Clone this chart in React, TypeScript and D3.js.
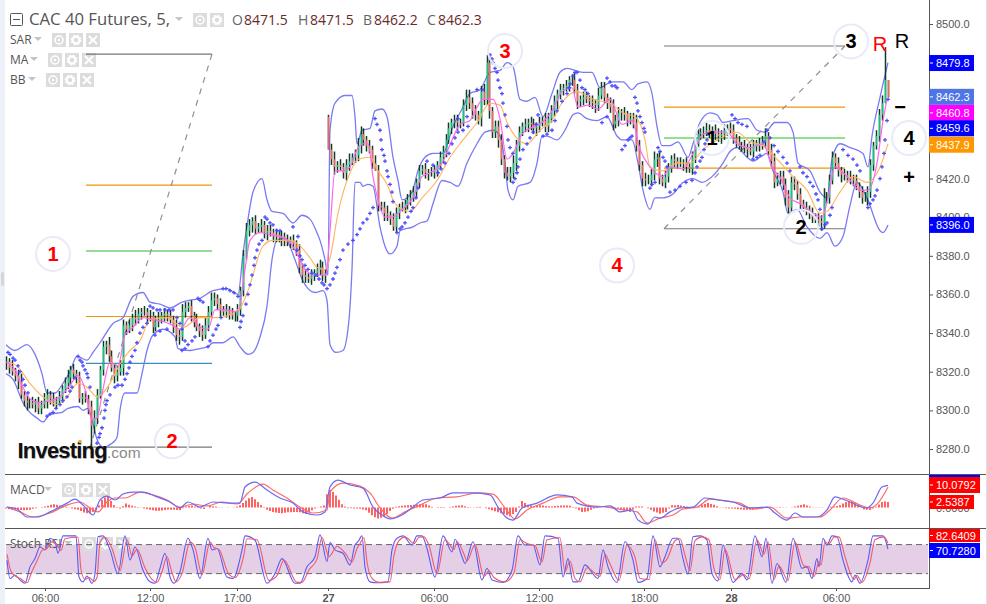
import React, { useEffect, useRef } from 'react';
import * as d3 from 'd3';

// candles, one every ~2.9 time units
const closes = [
  8325,8322,8320,8318,8315,8308,8305,8304,8304,8303,8304,8301,8303,8305,8308,8306,8304,8305,8307,8311,
  8314,8317,8321,8319,8317,8306,8307,8306,8302,8292,8296,8308,8321,8333,8334,8328,8322,8318,8320,8322,
  8344,8342,8344,8348,8347,8350,8351,8351,8349,8349,8343,8346,8347,8349,8350,8349,8347,8343,8339,8338,
  8351,8353,8354,8349,8347,8343,8341,8339,8344,8351,8357,8358,8355,8352,8351,8352,8350,8349,8349,8352,
  8362,8380,8393,8396,8398,8394,8395,8396,8392,8393,8392,8390,8391,8389,8390,8388,8387,8388,8386,8383,
  8374,8370,8369,8368,8370,8371,8373,8374,8370,8371,8435,8430,8426,8427,8426,8423,8427,8429,8431,8432,
  8437,8443,8440,8437,8435,8428,8424,8406,8405,8402,8401,8399,8395,8402,8405,8405,8407,8409,8410,8413,
  8418,8424,8425,8423,8423,8423,8424,8427,8431,8434,8440,8446,8449,8450,8449,8449,8458,8462,8459,8455,
  8453,8451,8465,8461,8480,8455,8444,8447,8440,8430,8423,8421,8423,8428,8437,8444,8447,8448,8449,8448,
  8446,8447,8449,8450,8447,8451,8455,8460,8464,8466,8467,8468,8471,8471,8466,8460,8461,8462,8461,8460,
  8459,8458,8463,8467,8462,8459,8457,8448,8450,8454,8454,8453,8450,8451,8449,8437,8427,8420,8419,8419,
  8422,8430,8431,8420,8418,8421,8425,8430,8429,8428,8428,8428,8426,8425,8431,8438,8443,8444,8444,8445,
  8444,8445,8443,8442,8443,8445,8446,8445,8441,8439,8437,8437,8436,8435,8434,8437,8438,8437,8439,8442,
  8435,8429,8418,8420,8421,8417,8410,8405,8418,8417,8412,8407,8405,8404,8402,8400,8399,8398,8397,8410,
  8410,8419,8431,8428,8424,8422,8422,8421,8420,8419,8416,8413,8410,8410,8413,8427,8437,8442,8453,8459,
  8471,8462,
];
const wickUp = [
  3,2,4,2,3,4,2,3,2,3,2,3,2,4,3,2,3,2,3,2,
  3,4,2,3,2,3,2,3,2,3,4,3,2,3,2,4,3,2,3,4,
  3,2,3,2,4,3,2,3,2,3,2,3,4,2,3,2,3,2,4,3,
  4,3,2,3,2,3,2,3,4,3,4,3,2,3,2,3,2,3,2,3,
  2,3,4,3,2,3,2,3,2,3,3,2,3,2,3,2,3,2,3,2,
  3,2,3,2,3,2,3,4,3,2,1,3,4,2,3,2,3,4,2,3,
  4,4,3,2,3,2,4,3,2,3,4,2,3,3,2,3,2,3,4,3,
  2,3,2,3,2,3,3,2,3,3,3,3,2,3,3,2,3,4,4,3,
  3,2,3,4,4,3,2,3,3,3,2,3,3,4,3,3,2,3,2,3,
  3,2,3,2,4,3,3,3,2,3,2,3,2,3,4,3,2,3,3,2,
  3,2,4,3,3,2,3,4,3,3,2,3,2,3,3,4,3,2,3,3,
  3,4,2,3,2,3,3,2,3,2,3,2,3,2,3,3,3,2,3,4,
  3,2,3,3,2,3,2,3,3,2,3,2,3,2,3,3,2,3,3,4,
  2,3,4,3,3,3,3,4,3,3,2,3,2,3,2,3,2,3,3,5,
  3,3,3,2,3,2,3,2,3,2,3,2,3,3,3,3,2,3,3,4,
  17,0,
];
const wickDown = [
  4,3,2,3,4,2,3,4,3,2,4,3,3,2,4,3,2,3,2,3,
  2,3,4,3,3,2,3,2,4,12,4,3,2,3,4,3,2,4,3,2,
  4,3,2,3,3,2,3,2,4,3,3,2,3,2,3,3,2,3,3,4,
  2,3,2,3,4,2,3,3,2,3,2,3,3,4,2,3,3,2,3,3,
  3,3,2,3,4,3,2,3,3,4,2,3,3,2,4,3,2,3,3,3,
  3,4,3,2,3,3,2,3,3,4,0,3,4,3,2,3,4,3,2,3,
  3,4,3,3,2,3,0,3,2,4,3,3,2,3,3,2,3,3,3,2,
  3,3,2,3,4,2,3,3,2,3,3,2,3,3,4,3,2,3,3,4,
  3,3,4,3,3,4,3,3,4,3,3,2,3,3,4,3,2,3,4,3,
  3,4,3,2,3,3,2,3,4,3,3,2,3,3,2,4,3,3,2,3,
  3,4,3,2,3,3,3,3,2,3,4,3,3,2,3,3,3,4,3,2,
  3,3,4,3,2,3,3,2,3,3,2,4,3,2,3,3,2,3,3,2,
  3,2,3,3,4,3,3,2,3,3,2,3,3,4,2,3,3,3,2,3,
  3,3,3,2,3,3,4,3,2,3,3,3,2,3,3,3,2,3,4,3,
  3,3,2,3,3,4,3,3,3,3,2,3,3,2,4,3,3,2,3,3,
  0,0,
];
// opening gaps, candle index -> open price
const gapOpens: Record<number, number> = { 110: 8452 };

const bbUpperT = [6,15,27,35,42,47,55,63,70,77,87,93,100,113,123,133,143,150,160,170,182,190,200,213,227,238,243,248,253,262,267,272,283,293,302,310,317,320,325,328,330,335,345,352,355,357,362,370,375,382,387,393,398,402,412,418,425,433,443,453,462,470,480,490,500,507,513,520,527,535,543,552,560,567,583,592,600,607,613,623,632,638,647,652,657,662,670,678,688,693,700,710,717,723,733,748,757,765,775,787,793,798,810,820,827,832,840,850,863,868,872,880,883,888];
const bbUpper = [8334,8331,8334,8329,8319,8309,8309,8314,8320,8328,8326,8330,8335,8345,8348,8359,8361,8356,8355,8353,8356,8357,8358,8362,8363,8360,8381,8399,8413,8420,8409,8403,8402,8397,8401,8399,8392,8388,8378,8370,8445,8459,8463,8463,8452,8438,8445,8446,8455,8456,8452,8431,8419,8409,8413,8424,8431,8433,8433,8447,8456,8464,8466,8475,8476,8480,8478,8461,8460,8462,8452,8464,8475,8477,8475,8475,8467,8469,8470,8470,8466,8469,8470,8464,8447,8437,8437,8439,8431,8438,8449,8454,8453,8449,8450,8451,8445,8444,8449,8449,8444,8428,8424,8413,8410,8430,8438,8436,8433,8426,8442,8462,8469,8480];
const bbLowerT = [6,13,23,28,37,43,50,62,68,78,83,88,92,97,103,112,117,120,125,137,142,147,153,163,175,178,190,200,208,213,223,233,240,248,253,260,267,272,277,285,295,302,308,315,323,327,330,336,343,349,352,355,360,363,368,373,380,385,390,397,400,413,420,427,433,442,450,458,467,477,485,493,500,505,508,513,518,530,537,542,547,557,565,573,578,587,597,607,617,622,632,638,643,650,655,663,673,683,693,702,712,723,730,737,747,753,760,767,773,783,788,797,807,820,827,835,843,850,857,867,880,883,888];
const bbLower = [8319,8316,8304,8300,8296,8294,8298,8299,8301,8302,8300,8301,8295,8285,8281,8283,8286,8300,8309,8309,8319,8331,8339,8342,8338,8332,8331,8332,8333,8335,8335,8338,8333,8329,8330,8338,8354,8378,8388,8389,8378,8368,8363,8361,8362,8357,8334,8330,8331,8347,8373,8418,8418,8416,8417,8416,8395,8385,8381,8385,8393,8395,8397,8398,8407,8419,8418,8416,8428,8438,8444,8445,8442,8428,8414,8409,8416,8418,8428,8442,8442,8440,8445,8453,8454,8451,8450,8452,8442,8440,8440,8428,8414,8404,8410,8410,8412,8418,8420,8418,8421,8428,8434,8436,8431,8429,8431,8433,8424,8413,8402,8404,8395,8389,8392,8385,8390,8406,8418,8410,8393,8392,8396];
const fastMaT = [6,15,22,30,40,50,60,70,78,85,92,97,103,110,118,125,133,143,153,163,173,180,190,200,208,215,225,238,245,250,260,270,280,290,298,305,315,326,330,335,343,350,357,363,368,373,378,385,392,402,413,422,430,442,452,460,470,477,483,493,500,507,513,522,530,542,552,562,572,578,588,598,610,622,632,640,650,663,670,683,693,703,715,727,737,750,763,772,782,790,800,813,822,828,835,847,860,868,877,883,887];
const fastMa = [8325,8321,8313,8306,8304,8305,8307,8313,8318,8311,8295,8296,8311,8325,8323,8339,8343,8348,8347,8346,8344,8342,8348,8343,8342,8352,8352,8351,8373,8388,8392,8391,8390,8387,8380,8373,8370,8370,8393,8424,8424,8426,8435,8438,8438,8421,8409,8400,8400,8404,8410,8421,8423,8428,8440,8448,8450,8457,8461,8461,8451,8430,8433,8443,8446,8449,8455,8465,8467,8457,8458,8456,8461,8448,8450,8435,8426,8421,8426,8425,8433,8443,8444,8444,8438,8436,8438,8426,8419,8410,8407,8402,8400,8410,8426,8421,8414,8414,8428,8450,8461];
const slowMaT = [7,17,30,43,57,67,78,87,97,110,120,130,140,150,167,183,200,217,240,248,263,273,290,310,317,325,330,338,350,358,370,378,388,393,402,410,422,437,450,463,477,490,500,507,515,527,540,552,563,577,593,610,623,635,645,650,663,677,690,703,717,737,750,763,777,793,807,820,827,840,853,867,880,888];
const slowMa = [8325,8323,8314,8307,8303,8307,8314,8312,8307,8314,8324,8331,8336,8347,8348,8343,8348,8348,8353,8362,8385,8388,8388,8379,8374,8373,8379,8402,8423,8430,8431,8424,8416,8409,8404,8403,8410,8419,8431,8440,8449,8459,8458,8449,8442,8438,8445,8450,8460,8465,8461,8459,8454,8452,8440,8426,8424,8428,8428,8435,8440,8444,8439,8437,8430,8421,8414,8402,8403,8413,8421,8418,8426,8438];
const sarT = [
  8,13,18,23,28,47,53,60,67,72,75,78,82,85,88,90,97,100,102,105,107,115,122,127,130,135,140,147,150,157,173,177,182,185,155,160,167,182,188,195,198,203,208,213,218,223,230,238,240,243,246,250,254,257,262,265,270,277,293,298,297,302,308,316,322,327,333,337,343,353,360,367,373,375,380,382,385,388,392,393,397,402,408,413,418,427,433,438,445,452,458,468,458,467,477,483,490,493,497,498,502,503,507,508,513,513,517,520,527,533,538,543,552,557,567,570,575,577,582,588,602,607,607,612,617,622,628,632,635,638,642,645,650,655,658,663,667,670,680,692,697,702,705,708,732,738,747,753,760,767,770,778,787,800,807,813,818,822,827,832,843,853,860,868,873,877,882,885,888,
  10,15,20,25,50,56,63,70,80,83,87,99,104,106,110,118,125,129,132,137,143,153,160,165,169,180,185,192,200,210,216,221,226,234,241,248,252,255,259,267,273,280,300,305,312,319,324,330,335,340,348,357,363,370,377,381,384,387,390,400,405,411,416,441,449,455,463,492,495,500,505,510,515,518,523,530,536,547,555,562,569,573,580,585,610,615,625,630,637,640,644,652,660,665,675,686,695,700,704,707,735,742,757,764,774,783,790,803,810,816,820,825,830,848,857,870,875,880,884,887,
];
const sar = [
  8330,8327,8323,8316,8309,8297,8299,8303,8307,8312,8317,8328,8325,8321,8317,8312,8283,8288,8291,8300,8305,8312,8313,8319,8325,8331,8340,8345,8354,8352,8352,8348,8342,8336,8339,8341,8342,8331,8334,8338,8358,8356,8333,8339,8344,8363,8362,8359,8343,8349,8355,8365,8375,8383,8388,8400,8397,8393,8395,8390,8383,8378,8373,8370,8366,8363,8368,8374,8383,8388,8394,8399,8405,8451,8445,8435,8429,8421,8413,8408,8392,8395,8400,8405,8415,8429,8427,8423,8428,8438,8444,8447,8451,8452,8466,8466,8484,8480,8475,8471,8464,8459,8447,8440,8433,8418,8423,8430,8438,8444,8453,8442,8445,8455,8464,8469,8475,8475,8467,8464,8449,8452,8472,8468,8467,8435,8440,8442,8462,8455,8449,8444,8415,8418,8436,8431,8426,8413,8416,8419,8426,8431,8438,8443,8453,8449,8447,8430,8432,8445,8441,8434,8428,8426,8421,8416,8409,8394,8397,8405,8435,8430,8424,8405,8409,8414,8426,8440,8461,
  8329,8326,8320,8313,8298,8301,8305,8310,8326,8323,8319,8286,8296,8303,8308,8313,8316,8322,8328,8335,8343,8353,8352,8352,8352,8345,8332,8336,8357,8336,8342,8348,8363,8361,8346,8360,8370,8379,8386,8399,8396,8393,8380,8375,8371,8368,8365,8365,8371,8378,8386,8391,8397,8402,8448,8440,8432,8424,8417,8394,8397,8403,8410,8425,8433,8441,8445,8482,8477,8467,8453,8436,8420,8426,8435,8441,8448,8443,8450,8460,8467,8473,8471,8466,8470,8468,8437,8441,8459,8452,8446,8417,8434,8429,8414,8418,8423,8429,8435,8440,8451,8448,8431,8439,8437,8431,8424,8423,8418,8412,8404,8396,8401,8432,8427,8407,8411,8420,8433,8450,
];

// MACD panel
const macdT = [7,17,27,37,50,67,75,83,93,100,107,115,123,133,143,157,170,180,188,200,213,233,240,245,255,267,280,293,303,317,325,330,338,350,363,373,382,390,402,413,423,440,453,473,490,498,507,513,522,537,557,572,577,597,610,620,632,638,648,655,660,670,680,693,705,718,733,750,767,775,787,795,803,817,827,835,845,867,873,882,888];
const macdLine = [0.2,-0.7,-4.3,-4.3,-2,2,3.8,1.1,-3.4,3.4,5.2,3.4,6.1,7,7,4.8,2.5,-0.2,2.5,0.2,2.5,2,2,9.3,11.5,7.9,4.3,2,-2,-3.4,-2,9.3,12.4,10.2,8.8,0.2,-3.4,-5.2,-3.4,0.2,3.4,4.3,6.6,6.6,5.7,0.2,-4.8,-5.7,-0.2,2,5.7,4.8,2,0.2,0.7,-2,-1.1,-5.7,-7.5,-4.3,-4.8,-2,-0.2,0.2,4.3,3.4,2.5,-0.2,0.2,-2.5,-5.7,-2.5,-4.3,-4.3,-1.1,4.8,3.4,-0.2,2,9.3,10.08];
const signalT = [7,20,33,50,67,80,90,98,107,115,125,140,153,167,180,193,207,222,237,248,263,273,287,300,313,327,330,343,360,370,380,392,405,420,437,457,477,493,505,515,527,543,560,573,587,607,623,637,647,660,673,683,697,710,727,740,753,770,787,800,820,830,843,860,870,878,888];
const signalLine = [0.2,-2,-4.3,-2.5,1.1,2.5,-0.2,-2,2.5,4.3,4.3,7,5.7,3.4,0.2,1.6,0.7,2.5,1.6,6.6,10.6,7.9,4.3,0.2,-2.5,-1.1,7,11.1,9.7,6.6,-0.2,-4.8,-2,1.1,4.3,4.8,6.6,6.1,-0.2,-5.2,-1.1,2,4.8,4.8,1.1,0.2,-1.1,-2,-7,-4.8,-3.4,-0.7,0.2,3.8,2.9,2,-0.7,0.2,-4.8,-4.3,-4.3,-1.1,4.3,1.1,-0.2,2,9.3];
// histogram, one bar about every 3 time units
const macdHist = [
  -0.5,-0.8,-1,-1,-1,-1.1,-1.2,-1.1,-1,-0.6,-0.3,0,0.2,0.5,0.8,1.2,1.5,1.2,0.9,0.6,0.3,-0.1,-0.5,-0.8,-1,-1.6,-2.3,-2.6,-2.6,-2,
  -1.2,1,3.5,4.5,5,3,1,0.2,-0.5,0.6,1.8,1.3,0.8,0.5,0.2,-0.1,-0.4,-0.7,-1,-1.3,-1.5,-1.5,-1.4,-1.1,-0.9,-1,-1,-1.1,-1.2,-0.3,
  0.5,0.7,0.9,0.4,-0.2,-0.5,-0.7,0,0.8,0.6,0.4,0.1,-0.1,0,0.1,0,-0.1,0.4,1,2,3.2,4.2,4.8,3.8,2.5,1.1,-0.2,-1,-1.6,-2,
  -2.3,-2.5,-2.6,-2.4,-2.2,-2.1,-2,-2,-2.1,-2.6,-3,-2.1,-1.2,-0.5,0.1,0.5,0.9,6,8,7,5.5,3.5,1.5,0.5,-0.3,-0.3,-0.4,-0.5,-0.6,-0.9,
  -1.2,-2.4,-3.5,-4.4,-5,-4.7,-4.2,-3,-1.6,-0.6,0.3,0.6,0.8,0.9,1,1.1,1.2,1.4,1.5,1.5,1.5,0.9,0.3,0,-0.2,-0.2,-0.2,0,0.2,0.5,
  0.8,0.9,1,0.6,0.2,0.1,0.1,0.2,0.3,0,-0.3,-0.8,-1.2,-1.7,-2.1,-2.6,-3,-3.5,-4,-3,-2,0.5,3,2,1.2,1,0.7,0.9,1,0.9,
  0.7,0.6,0.5,0.7,0.8,0.9,0.9,0.9,0.8,0.2,-0.5,-1.3,-2,-1.9,-1.7,-1,-0.4,-0.2,0,0,-0.1,-0.2,-0.3,-0.4,-0.5,-0.9,-1.2,-1.6,-2,-0.8,
  0.5,0.5,0.4,0,-0.3,-1,-1.8,-2.3,-2.8,-2.4,-2,-0.5,1,1,1.1,0.9,0.7,0.4,0.1,0,-0.2,0.5,1.2,1.6,2,1.6,1.2,0.6,0.1,-0.1,
  -0.3,-0.4,-0.5,-0.6,-0.8,-0.9,-1,-1,-1,-0.9,-0.7,-0.5,-0.4,-0.2,0,0,-0.1,-0.1,-0.2,-0.1,-0.1,0,0.1,0.4,0.8,1.1,1.5,0.9,0.4,0.1,
  -0.1,-0.1,-0.1,0,0.1,0.3,0.5,0.7,1,1.8,2.5,2.8,3,2.1,1.2,0.1,-0.9,-1,-1.1,-0.4,0.3,1.4,2.5,2.7,2.5,
];

// Stochastic RSI panel
const stochKT = [7,10,15,20,25,30,35,40,45,50,55,58,63,76,79,83,87,92,95,98,103,110,118,125,130,135,143,150,155,160,165,170,174,180,188,193,200,208,212,217,227,233,242,245,255,267,275,282,295,300,307,315,320,327,330,335,343,350,355,358,362,365,370,377,388,392,397,403,412,417,422,427,435,443,452,455,462,465,473,482,487,492,503,512,518,525,533,540,545,558,563,568,573,578,585,598,603,608,617,625,633,638,647,653,660,665,673,678,683,688,693,700,707,712,718,723,733,742,747,755,762,766,772,777,786,793,802,807,812,817,819,823,827,832,837,843,852,855,860,868,873,883,888];
const stochK = [48,10,17,7,0,34,51,75,69,93,86,62,98,98,13,3,15,0,20,96,98,69,20,98,48,75,27,3,0,31,62,13,0,24,93,69,10,93,69,72,13,10,69,98,89,0,20,51,0,0,34,55,100,45,84,69,62,38,79,86,98,34,3,1,3,69,93,98,79,98,98,72,13,98,65,91,55,41,86,7,31,7,2,27,98,79,79,38,98,93,13,51,3,3,38,10,69,34,2,86,48,2,10,98,34,55,93,93,51,19,96,98,89,20,5,79,2,20,7,98,55,93,0,41,2,93,31,34,10,51,34,93,79,98,96,48,3,17,0,48,98,98,70.7];
const stochDT = [7,11,16,21,27,32,37,42,47,52,57,61,65,78,81,85,89,94,97,100,105,112,120,127,132,137,145,152,157,162,167,172,176,182,190,195,202,210,214,219,229,235,244,247,257,269,277,284,297,302,309,317,322,329,337,345,352,357,360,364,367,372,379,390,394,399,405,414,419,424,429,437,445,454,457,464,467,475,484,489,494,505,514,520,527,535,542,547,560,565,570,575,580,587,600,605,610,619,627,635,640,649,655,662,667,675,680,685,690,695,702,709,714,720,725,735,744,749,757,764,768,774,779,788,795,804,809,814,819,821,825,829,834,839,845,854,857,862,870,875,884,888];
const stochD = [60,25,14,9,1,25,46,68,72,86,80,68,92,95,28,8,12,4,12,85,95,72,26,90,56,70,32,8,2,24,55,22,3,20,85,74,18,85,74,70,18,12,60,92,90,6,16,48,2,2,28,50,95,55,76,63,44,72,82,94,44,10,2,3,58,88,96,82,95,96,78,20,90,70,86,60,46,80,14,26,12,3,22,90,82,78,44,90,94,24,46,10,3,32,14,60,40,6,78,54,10,8,90,42,50,88,92,58,26,88,96,90,30,8,70,8,18,9,90,60,86,8,36,6,85,36,34,14,45,38,85,82,95,96,55,8,16,2,42,90,96,82.6];

const priceTicks = [8500,8420,8400,8380,8360,8340,8320,8300,8280];
const timeTickT = [45,150,237,328,434,539,644,731,836];
const timeTickLabels = ['06:00','12:00','17:00','27','06:00','12:00','18:00','28','06:00'];

// fib fans drawn on the chart, prices
const leftFibLevels = [8484.4,8416.6,8382.5,8348.6,8324.3,8281];
const rightFibLevels = [8488.6,8457,8441,8425.4,8394];
const fibColors = ['#777','#f0950c','#34b834','#f0950c','#3a8ec4','#777'];
const rightFibColors = ['#777','#f0950c','#20c820','#f0950c','#777'];
const redWave = [{ t: 53, p: 8381, s: '1' }, { t: 172, p: 8284, s: '2' }, { t: 505, p: 8486, s: '3' }, { t: 617, p: 8375, s: '4' }];
const blackWave = [{ t: 712, p: 8441, s: '1' }, { t: 801, p: 8395, s: '2' }, { t: 851, p: 8491, s: '3' }, { t: 909, p: 8441, s: '4' }];

const priceLabels = [
  { text: '8479.8', bg: '#0000ff', p: 8479.8 },
  { text: '8462.3', bg: '#4f74e6', p: 8462.3 },
  { text: '8460.8', bg: '#ff00ff', p: 8454 },
  { text: '8459.6', bg: '#0000ff', p: 8446 },
  { text: '8437.9', bg: '#ff9800', p: 8437.5 },
  { text: '8396.0', bg: '#0000ff', p: 8396 },
];

const FONT = '"Liberation Sans", Arial, sans-serif';
const UI_FONT = '"Open Sans", sans-serif';

export default function App() {
  const svgRef = useRef<SVGSVGElement>(null);

  useEffect(() => {
    const svg = d3.select(svgRef.current);
    svg.selectAll('*').remove();

    const x = d3.scaleLinear().domain([6, 888]).range([6, 888]);
    const y = d3.scaleLinear().domain([8500, 8280]).range([24, 449]);
    const yMacd = d3.scaleLinear().domain([15.2, -9.3]).range([474, 528]);
    const yStoch = d3.scaleLinear().domain([0, 100]).range([583.3, 534.9]);
    const slotX = d3.scaleLinear().domain([0, closes.length - 1]).range([6, 888]);
    const histX = d3.scaleLinear().domain([0, macdHist.length - 1]).range([6, 888]);

    svg.append('rect').attr('width', 5).attr('height', 604).attr('fill', '#eef0f8');
    svg.append('rect').attr('x', 1).attr('y', 272).attr('width', 3).attr('height', 14).attr('rx', 1.5).attr('fill', '#d4d6dc');
    svg.append('rect').attr('x', 986).attr('width', 1).attr('height', 604).attr('fill', '#e0e0e0');

    // top-left legend blocks first so the chart sits over them
    const buttons = (bx: number, by: number, n = 3, size = 14) => {
      d3.range(n).forEach(k => {
        const g = svg.append('g').attr('transform', `translate(${bx + k * (size + 3)},${by})`);
        g.append('rect').attr('width', size).attr('height', size).attr('fill', '#dcdcdc');
        const c = size / 2;
        if (k === 0) {
          g.append('circle').attr('cx', c).attr('cy', c).attr('r', 4).attr('fill', 'none').attr('stroke', '#fff').attr('stroke-width', 1.5);
          g.append('circle').attr('cx', c).attr('cy', c).attr('r', 1.3).attr('fill', '#fff');
        } else if (k === 1) {
          g.append('circle').attr('cx', c).attr('cy', c).attr('r', 3.4).attr('fill', 'none').attr('stroke', '#fff').attr('stroke-width', 2.4);
          g.append('circle').attr('cx', c).attr('cy', c).attr('r', 4.6).attr('fill', 'none').attr('stroke', '#fff').attr('stroke-width', 1.6).attr('stroke-dasharray', '2 1.6');
        } else {
          g.append('path').attr('d', `M${c - 4},${c - 4}L${c + 4},${c + 4}M${c + 4},${c - 4}L${c - 4},${c + 4}`).attr('stroke', '#fff').attr('stroke-width', 2);
        }
      });
    };
    const caret = (cx: number, cy: number) =>
      svg.append('path').attr('d', `M${cx - 4},${cy - 2}L${cx + 4},${cy - 2}L${cx},${cy + 2}Z`).attr('fill', '#c4c4c4');
    const uiText = (tx: number, ty: number, s: string, size = 12, fill = '#555') =>
      svg.append('text').attr('x', tx).attr('y', ty).attr('font-family', UI_FONT).attr('font-size', size).attr('fill', fill).text(s);

    svg.append('rect').attr('x', 10.5).attr('y', 13.5).attr('width', 12).attr('height', 12).attr('rx', 1).attr('fill', 'none').attr('stroke', '#555');
    svg.append('path').attr('d', 'M13,19.5H20').attr('stroke', '#555');
    uiText(29, 25, 'CAC 40 Futures, 5,', 16.7);
    caret(179, 19);
    buttons(193, 13, 2, 14);
    [['O', '8471.5', 232, 244], ['H', '8471.5', 298, 310], ['B', '8462.2', 363, 374], ['C', '8462.3', 427, 438]].forEach(([k, v, a, b]) => {
      uiText(a as number, 25, k as string, 14, '#666');
      uiText(b as number, 25, v as string, 14, '#6b2a2a');
    });
    uiText(10, 44, 'SAR'); caret(38, 39); buttons(52, 33);
    uiText(10, 64, 'MA'); caret(34, 59); buttons(48, 53);
    uiText(10, 84, 'BB'); caret(32, 79); buttons(46, 73);
    uiText(10, 494, 'MACD'); caret(48, 489); buttons(62, 483);

    // stoch band + its legend
    svg.append('rect').attr('x', 6).attr('y', yStoch(80)).attr('height', yStoch(20) - yStoch(80)).attr('fill', '#e4cfe6').attr('width', 922);
    uiText(10, 548, 'Stoch RSI'); caret(68, 543); buttons(82, 537);
    [80, 20].forEach(v => {
      svg.append('line').attr('x1', 6).attr('x2', 928).attr('y1', yStoch(v)).attr('y2', yStoch(v)).attr('stroke', '#666').attr('stroke-dasharray', '6 4');
    });

    // fib levels and fan lines
    const hLines = (x0: number, x1: number, levels: number[], colors: string[]) =>
      levels.forEach((p, i) => {
        svg.append('line').attr('x1', x(x0)).attr('x2', x(x1)).attr('y1', y(p)).attr('y2', y(p)).attr('stroke', colors[i]).attr('stroke-width', 1.2);
      });
    hLines(86, 212, leftFibLevels, fibColors);
    hLines(664, 845, rightFibLevels, rightFibColors);
    const dash = (t0: number, p0: number, t1: number, p1: number) =>
      svg.append('line').attr('x1', x(t0)).attr('x2', x(t1)).attr('y1', y(p0)).attr('y2', y(p1)).attr('stroke', '#8f8f8f').attr('stroke-width', 1.2).attr('stroke-dasharray', '6 6');
    dash(212, 8484.4, 90, 8281);
    dash(664, 8394, 845, 8488.6);

    // Bollinger bands
    const lineAt = (ts: number[], vs: number[], yScale: d3.ScaleLinear<number, number>, color: string, width: number) =>
      svg.append('path')
        .attr('d', d3.line<number>().x((_, i) => x(ts[i])).y(d => yScale(d)).curve(d3.curveMonotoneX)(vs))
        .attr('fill', 'none').attr('stroke', color).attr('stroke-width', width);
    lineAt(bbUpperT, bbUpper, y, '#7a7af5', 1.3);
    lineAt(bbLowerT, bbLower, y, '#7a7af5', 1.3);

    // candles
    closes.forEach((c, i) => {
      const o = gapOpens[i] ?? (i ? closes[i - 1] : c);
      const top = Math.max(o, c);
      const bot = Math.min(o, c);
      const cx = Math.round(slotX(i)) + 0.5;
      svg.append('line').attr('x1', cx).attr('x2', cx).attr('y1', y(top + wickUp[i])).attr('y2', y(bot - wickDown[i])).attr('stroke', '#123a26').attr('stroke-width', 1.5);
      svg.append('line').attr('x1', cx).attr('x2', cx).attr('y1', y(top)).attr('y2', y(bot)).attr('stroke', c >= o ? '#10c47c' : '#f4645a').attr('stroke-width', 1.5);
    });

    // moving averages
    lineAt(slowMaT, slowMa, y, '#ffb45e', 1.1);
    lineAt(fastMaT, fastMa, y, '#ff66ee', 1.2);

    // parabolic SAR
    const plus = d3.symbol().type(d3.symbolCross).size(8)();
    svg.append('g').selectAll('path').data(sar).join('path')
      .attr('d', plus)
      .attr('transform', (d, i) => `translate(${x(sarT[i])},${y(d)})`)
      .attr('fill', '#4a4aff');

    // wave labels
    const wave = (items: typeof redWave, color: string) =>
      items.forEach(w => {
        svg.append('circle').attr('cx', x(w.t)).attr('cy', y(w.p)).attr('r', 17).attr('fill', 'none').attr('stroke', '#e6ebf7').attr('stroke-width', 2);
        svg.append('text').attr('x', x(w.t)).attr('y', y(w.p) + 7).attr('text-anchor', 'middle').attr('font-family', FONT)
          .attr('font-size', 20).attr('font-weight', 'bold').attr('fill', color).text(w.s);
      });
    wave(redWave, '#f00');
    wave(blackWave, '#000');
    const mark = (t: number, p: number, s: string, color: string, weight = 'normal') =>
      svg.append('text').attr('x', x(t)).attr('y', y(p)).attr('text-anchor', 'middle').attr('font-family', FONT).attr('font-size', 20).attr('font-weight', weight).attr('fill', color).text(s);
    mark(880, 8486, 'R', '#f00');
    mark(902, 8487.6, 'R', '#000');
    mark(900, 8453.5, '−', '#000', 'bold');
    mark(909, 8417, '+', '#000', 'bold');

    // Investing watermark
    svg.append('text').attr('x', 18).attr('y', 459).attr('font-family', FONT).attr('font-size', 22).attr('font-weight', 'bold').attr('letter-spacing', -0.8).attr('fill', '#000').attr('opacity', 0.3).text('Investing');
    svg.append('text').attr('x', 17.5).attr('y', 458).attr('font-family', FONT).attr('font-size', 22).attr('font-weight', 'bold').attr('letter-spacing', -0.8).attr('fill', '#111').text('Investing');
    svg.append('text').attr('x', 107).attr('y', 458).attr('font-family', FONT).attr('font-size', 15.5).attr('fill', '#8a8a8a').text('.com');
    svg.append('circle').attr('cx', 80).attr('cy', 441.5).attr('r', 1.8).attr('fill', '#f5a623');

    // MACD
    svg.append('g').selectAll('line').data(macdHist).join('line')
      .attr('x1', (_, i) => histX(i)).attr('x2', (_, i) => histX(i))
      .attr('y1', yMacd(0)).attr('y2', d => yMacd(d))
      .attr('stroke', '#ff4848').attr('stroke-width', 1.7);
    lineAt(signalT, signalLine, yMacd, '#ff6a6a', 1.2);
    lineAt(macdT, macdLine, yMacd, '#6a6af5', 1.2);

    // Stochastic RSI
    lineAt(stochKT, stochK, yStoch, '#5a5af5', 1.1);
    lineAt(stochDT, stochD, yStoch, '#f05a6a', 1.1);

    // frame
    const frame = (x1: number, y1: number, x2: number, y2: number) =>
      svg.append('line').attr('x1', x1).attr('x2', x2).attr('y1', y1).attr('y2', y2).attr('stroke', '#555');
    frame(5, 474.5, 986, 474.5);
    frame(5, 528.5, 986, 528.5);
    frame(5, 588.5, 930, 588.5);
    frame(929.5, 0, 929.5, 588);

    // axes
    const styleAxis = (g: d3.Selection<SVGGElement, unknown, null, undefined>) => {
      g.select('.domain').remove();
      g.selectAll('.tick line').attr('stroke', '#555');
      g.selectAll('.tick text').attr('fill', '#555').attr('font-family', FONT).attr('font-size', 11);
    };
    svg.append('g').attr('transform', 'translate(930,0)')
      .call(d3.axisRight(y).tickValues(priceTicks).tickSize(3).tickPadding(3).tickFormat(d3.format('.1f') as never))
      .call(styleAxis as never);
    svg.append('g').attr('transform', 'translate(930,0)')
      .call(d3.axisRight(yMacd).tickValues([0]).tickSize(3).tickPadding(3).tickFormat(d3.format('.4f') as never))
      .call(styleAxis as never);
    const clip = svg.append('clipPath').attr('id', 'stoch-clip');
    clip.append('rect').attr('x', 930).attr('y', 529).attr('width', 57).attr('height', 58);
    svg.append('g').attr('transform', 'translate(930,0)').attr('clip-path', 'url(#stoch-clip)')
      .call(d3.axisRight(yStoch).tickValues([0, 100]).tickSize(3).tickPadding(3).tickFormat(d3.format('.4f') as never))
      .call(styleAxis as never);
    const tickIndex = new Map(timeTickT.map((t, i) => [t, timeTickLabels[i]]));
    svg.append('g').attr('transform', 'translate(0,588)')
      .call(d3.axisBottom(x).tickValues(timeTickT).tickSize(3).tickPadding(3).tickFormat(d => tickIndex.get(d as number) ?? ''))
      .call(styleAxis as never)
      .call(g => g.selectAll('.tick text').attr('font-size', 11).attr('font-weight', (_, i) => (i === 3 || i === 7 ? 'bold' : 'normal')));

    // last value boxes
    const box = (by: number, bh: number, bw: number, color: string, s: string) => {
      svg.append('rect').attr('x', 929).attr('y', by).attr('width', bw).attr('height', bh).attr('fill', color);
      svg.append('line').attr('x1', 930).attr('x2', 933).attr('y1', by + bh / 2).attr('y2', by + bh / 2).attr('stroke', '#fff');
      svg.append('text').attr('x', 936).attr('y', by + bh / 2 + 4).attr('font-family', FONT).attr('font-size', 11).attr('fill', '#fff').text(s);
    };
    priceLabels.forEach(l => box(y(l.p) - 8, 16, 45, l.bg, l.text));
    svg.append('rect').attr('x', 929).attr('y', 475).attr('width', 51).attr('height', 2).attr('fill', '#00f');
    box(477, 16, 51, '#f00', '10.0792');
    box(495, 14, 45, '#f00', '2.5387');
    box(529, 13, 51, '#f00', '82.6409');
    box(543, 15, 51, '#00f', '70.7280');
  }, []);

  return <svg ref={svgRef} width={987} height={604} style={{ position: 'absolute', left: 0, top: 0, background: '#fff' }} />;
}
